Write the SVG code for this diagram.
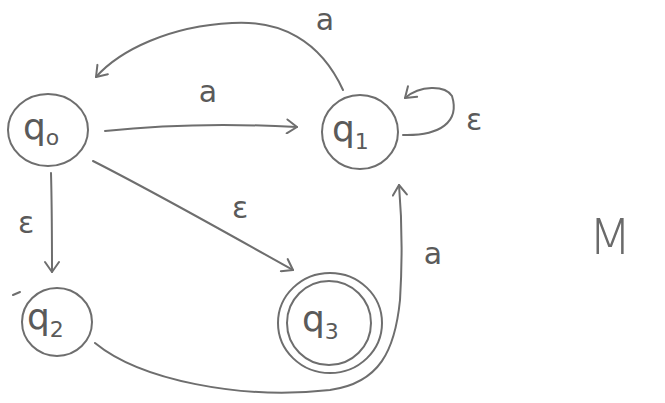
<svg xmlns="http://www.w3.org/2000/svg" width="665" height="403" viewBox="0 0 665 403">
<defs>
<style>
.st{fill:none;stroke:#6e6e6e;stroke-width:2;stroke-linecap:round;stroke-linejoin:round}
.lbl{font-family:"DejaVu Sans","Liberation Sans",sans-serif;fill:#5a5a5a;font-size:30px;text-anchor:middle}
.q{font-family:"DejaVu Sans","Liberation Sans",sans-serif;fill:#5a5a5a;font-size:36px}
.sub{font-size:22px}
</style>
<marker id="ah" markerWidth="16" markerHeight="16" refX="12" refY="8" orient="auto" markerUnits="userSpaceOnUse">
<path d="M2,1 L12,8 L2,15" fill="none" stroke="#6e6e6e" stroke-width="2" stroke-linecap="round" stroke-linejoin="round"/>
</marker>
</defs>
<rect width="665" height="403" fill="#ffffff"/>
<g id="connectors">
<path class="st" d="M343,90 C320,40 280,20 232,23 C170,26 120,50 96,77" marker-end="url(#ah)"/>
<path class="st" d="M105,131 C170,124 240,124 297,127" marker-end="url(#ah)"/>
<path class="st" d="M403,135 C440,136 460,122 452,96 C445,85 420,85 405,98" marker-end="url(#ah)"/>
<path class="st" d="M51,173 C52,210 52,240 52,272" marker-end="url(#ah)"/>
<path class="st" d="M93,161 C160,195 230,235 293,270" marker-end="url(#ah)"/>
<path class="st" d="M95,343 C140,380 240,400 330,390 C380,383 395,350 400,300 C403,250 402,220 399,185" marker-end="url(#ah)"/>
<path class="st" d="M13,295 L20,292"/>
</g>
<g id="labels">
<text class="lbl" x="325" y="30">a</text>
<text class="lbl" x="208" y="102">a</text>
<text class="lbl" x="474" y="130">ε</text>
<text class="lbl" x="26" y="233">ε</text>
<text class="lbl" x="240" y="218">ε</text>
<text class="lbl" x="433" y="264">a</text>
</g>
<g id="q0">
<ellipse class="st" cx="48" cy="130" rx="40" ry="36"/>
<text class="q" x="23" y="139">q<tspan class="sub" dy="6">o</tspan></text>
</g>
<g id="q1">
<ellipse class="st" cx="360" cy="132" rx="38" ry="37"/>
<text class="q" x="332" y="141">q<tspan class="sub" dy="8">1</tspan></text>
</g>
<g id="q2">
<ellipse class="st" cx="57" cy="322" rx="35" ry="34"/>
<text class="q" x="27" y="329">q<tspan class="sub" dy="8">2</tspan></text>
</g>
<g id="q3">
<ellipse class="st" cx="330" cy="323" rx="52" ry="50"/>
<ellipse class="st" cx="329" cy="323" rx="42" ry="42"/>
<text class="q" x="302" y="331">q<tspan class="sub" dy="8">3</tspan></text>
</g>
<text id="M" x="610" y="254" font-family="DejaVu Sans, sans-serif" font-size="50" fill="#6a6a6a" text-anchor="middle" font-weight="200">M</text>
</svg>
